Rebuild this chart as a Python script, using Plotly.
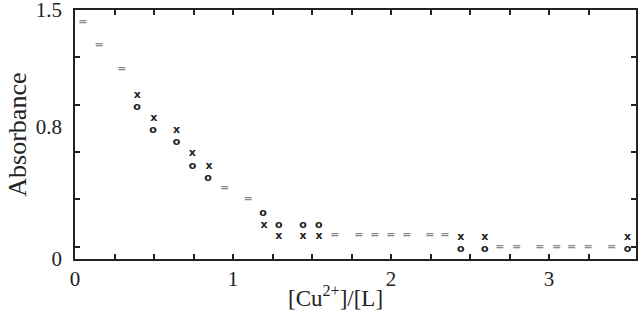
import plotly.graph_objects as go

# rapport [Cu2+]/[L] et absorbance
eq_x = [0.049, 0.152, 0.297, 0.947, 1.095, 1.644, 1.796, 1.897, 1.998, 2.100, 2.245, 2.340,
        2.688, 2.794, 2.941, 3.047, 3.142, 3.247, 3.395]
eq_y = [1.426, 1.285, 1.141, 0.427, 0.360, 0.141, 0.141, 0.141, 0.141, 0.141, 0.141, 0.141,
        0.071, 0.071, 0.071, 0.071, 0.071, 0.071, 0.071]

cross_x = [0.395, 0.498, 0.642, 0.743, 0.848, 1.196, 1.289, 1.443, 1.544, 2.441, 2.593, 3.496]
cross_y = [0.988, 0.845, 0.774, 0.638, 0.561, 0.201, 0.135, 0.135, 0.135, 0.131, 0.131, 0.131]

circ_x = [0.392, 0.494, 0.642, 0.743, 0.842, 1.190, 1.289, 1.443, 1.542, 2.441, 2.593, 3.496]
circ_y = [0.916, 0.774, 0.704, 0.561, 0.489, 0.276, 0.201, 0.201, 0.201, 0.060, 0.060, 0.060]

x_ticks = [i * 0.25 for i in range(14)]
x_labels = ["0", "", "", "", "1", "", "", "", "2", "", "", "", "3", ""]
y_ticks = [0.074, 0.359, 0.644, 0.929, 1.214]
y_labels = [0, 0.8, 1.5]

serif = "Liberation Serif"
mark_font = dict(family="DejaVu Sans", size=11, weight="bold")

fig = go.Figure()

fig.add_trace(go.Scatter(x=eq_x, y=eq_y, mode="text", text=["="] * len(eq_x),
                         textfont=dict(mark_font, color="#8a8a8a"), hoverinfo="skip"))
fig.add_trace(go.Scatter(x=cross_x, y=cross_y, mode="text", text=["x"] * len(cross_x),
                         textfont=dict(mark_font, color="#222222"), hoverinfo="skip"))
fig.add_trace(go.Scatter(x=circ_x, y=circ_y, mode="text", text=["o"] * len(circ_x),
                         textfont=dict(mark_font, color="#222222"), hoverinfo="skip"))
# axe invisible pour les libellés 0 / 0.8 / 1.5
fig.add_trace(go.Scatter(x=[0], y=[0], yaxis="y2", mode="markers",
                         marker=dict(opacity=0), hoverinfo="skip"))

fig.update_layout(
    width=640, height=318,
    margin=dict(l=75, r=4, t=10, b=59),
    paper_bgcolor="white", plot_bgcolor="white",
    showlegend=False,
    xaxis=dict(range=[0, 3.55], tickmode="array", tickvals=x_ticks, ticktext=x_labels,
               ticks="inside", ticklen=5, tickwidth=1.5, tickcolor="#222",
               showline=True, linewidth=2, linecolor="#222", mirror="ticks",
               showgrid=False, zeroline=False, automargin=False,
               tickfont=dict(family=serif, size=21, color="#222")),
    yaxis=dict(range=[0, 1.5], tickmode="array", tickvals=y_ticks, ticktext=[""] * len(y_ticks),
               ticks="inside", ticklen=5, tickwidth=1.5, tickcolor="#222",
               showline=True, linewidth=2, linecolor="#222", mirror="ticks",
               showgrid=False, zeroline=False, automargin=False),
    yaxis2=dict(range=[0, 1.5], overlaying="y", side="left", tickmode="array",
                tickvals=y_labels, ticktext=["0", "0.8", "1.5"], ticks="",
                showgrid=False, zeroline=False, showline=False, ticklabelstandoff=12,
                ticklabeloverflow="allow", automargin=False,
                tickfont=dict(family=serif, size=21, color="#222")),
    annotations=[
        dict(text="[Cu<sup>2+</sup>]/[L]", xref="paper", yref="paper", x=(335 - 75) / 561,
             y=-0.15, xanchor="center", yanchor="middle", showarrow=False,
             font=dict(family=serif, size=23, color="#222")),
        dict(text="Absorbance", xref="paper", yref="paper", x=-0.103, y=0.5,
             xanchor="center", yanchor="middle", textangle=-90, showarrow=False,
             font=dict(family=serif, size=26, color="#222")),
    ],
)

# la page a une marge de 8px par défaut : on la retire
fig.write_html("out.html", config={"displayModeBar": False},
               post_script="document.body.style.margin = '0';")
